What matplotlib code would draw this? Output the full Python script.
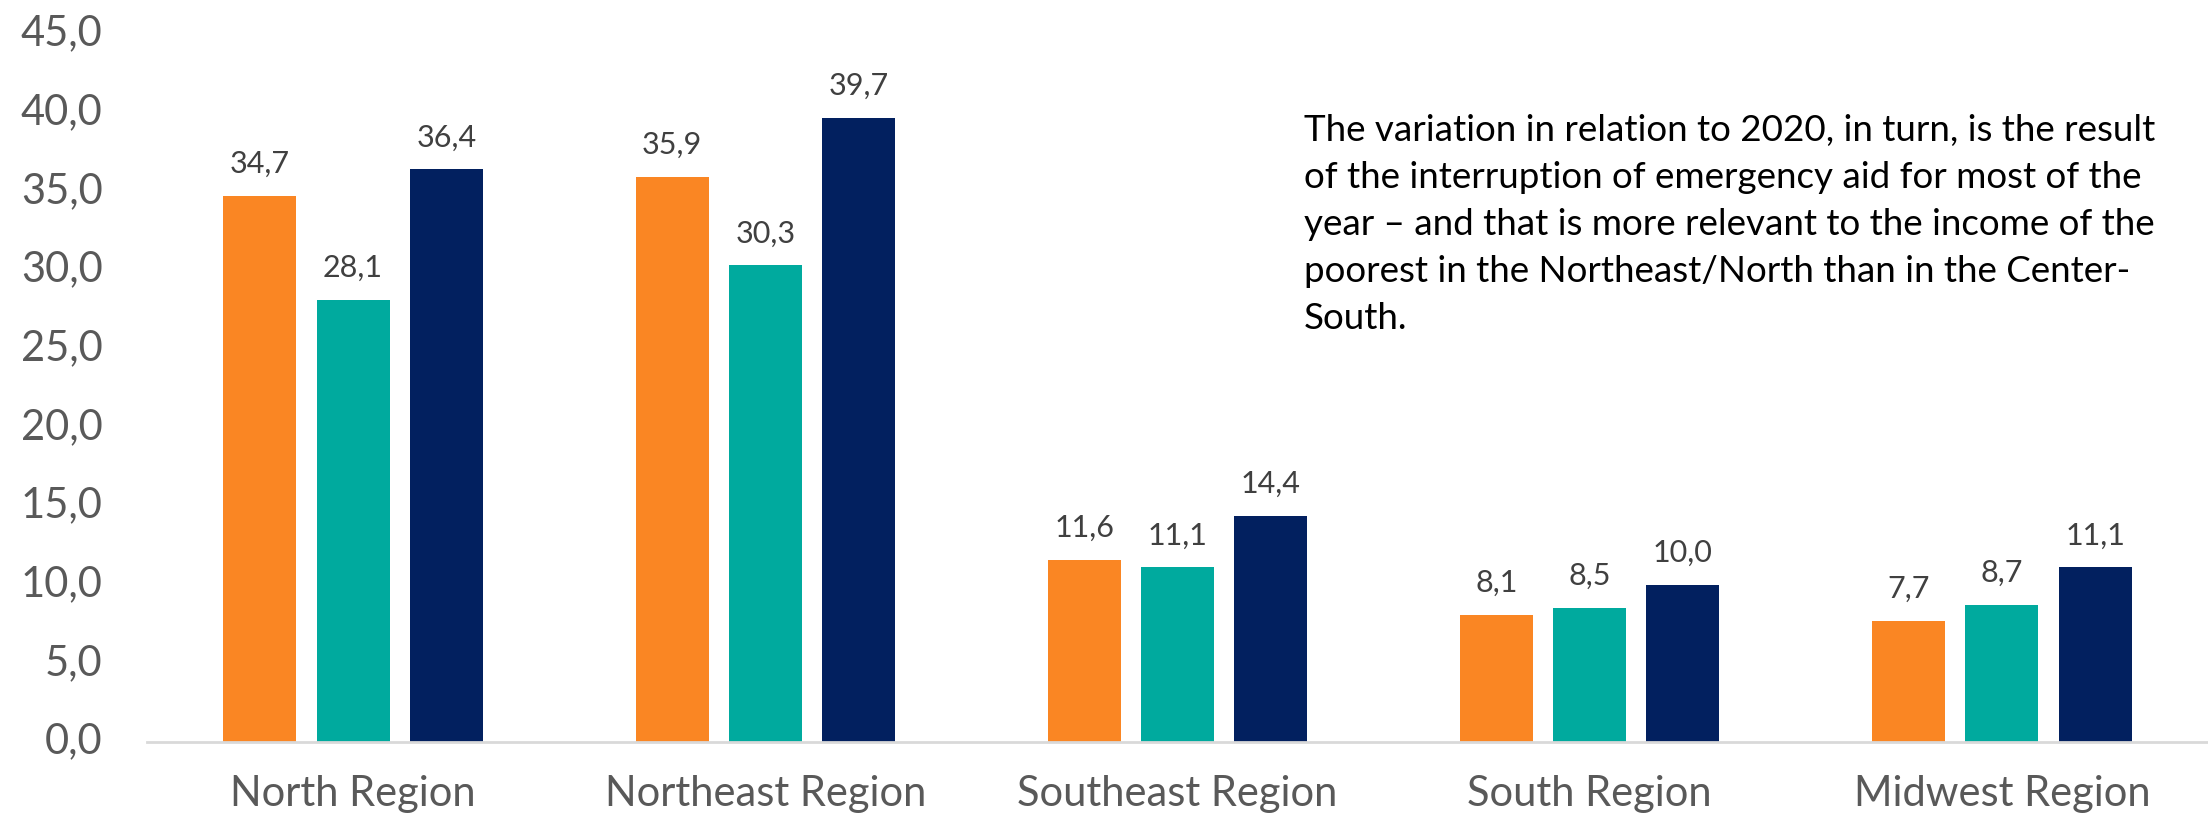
import numpy as np
import matplotlib.pyplot as plt
from matplotlib.transforms import ScaledTranslation

regions = ['North Region', 'Northeast Region', 'Southeast Region', 'South Region', 'Midwest Region']
s1 = [34.7, 35.9, 11.6, 8.1, 7.7]
s2 = [28.1, 30.3, 11.1, 8.5, 8.7]
s3 = [36.4, 39.7, 14.4, 10.0, 11.1]
colors = ['#FA8623', '#00AA9E', '#02205F']
yticks = np.arange(0, 46, 5)

note = ("The variation in relation to 2020, in turn, is the result\n"
        "of the interruption of emergency aid for most of the\n"
        "year \u2013 and that is more relevant to the income of the\n"
        "poorest in the Northeast/North than in the Center-\n"
        "South.")

plt.rcParams['font.family'] = ['Lato', 'DejaVu Sans']

fig = plt.figure(figsize=(22.08, 8.24), dpi=100)
ax = fig.add_axes([147 / 2208, 0.0995, 1 - 147 / 2208, 0.859])

x = np.arange(len(regions))
w = 0.177
step = 0.226
for i, (vals, c) in enumerate(zip([s1, s2, s3], colors)):
    bars = ax.bar(x + (i - 1) * step, vals, width=w, color=c)
    ax.bar_label(bars, labels=[f'{v:.1f}'.replace('.', ',') for v in vals],
                 padding=13, fontsize=22, color='#404040')

ax.set_xlim(-0.5, 4.5)
ax.set_ylim(0, 45)
ax.set_xticks(x)
ax.set_xticklabels(regions, fontsize=30, color='#595959')
ax.set_yticks(yticks)
ax.set_yticklabels([f'{v:.1f}'.replace('.', ',') for v in yticks], fontsize=30,
                   color='#595959')
ax.tick_params(axis='both', length=0)
ax.tick_params(axis='x', pad=24)
ax.tick_params(axis='y', pad=32)
shift = ScaledTranslation(0, 4 / 100, fig.dpi_scale_trans)
for lab in ax.get_yticklabels():
    lab.set_transform(lab.get_transform() + shift)
for s in ['top', 'right', 'left']:
    ax.spines[s].set_visible(False)
ax.spines['bottom'].set_color('#D9D9D9')
ax.spines['bottom'].set_linewidth(2)

fig.text(1304 / 2208, 1 - 114 / 824, note, fontsize=26.5, color='black',
         va='top', ha='left', linespacing=1.52)

fig.savefig('out.png', dpi=100)
